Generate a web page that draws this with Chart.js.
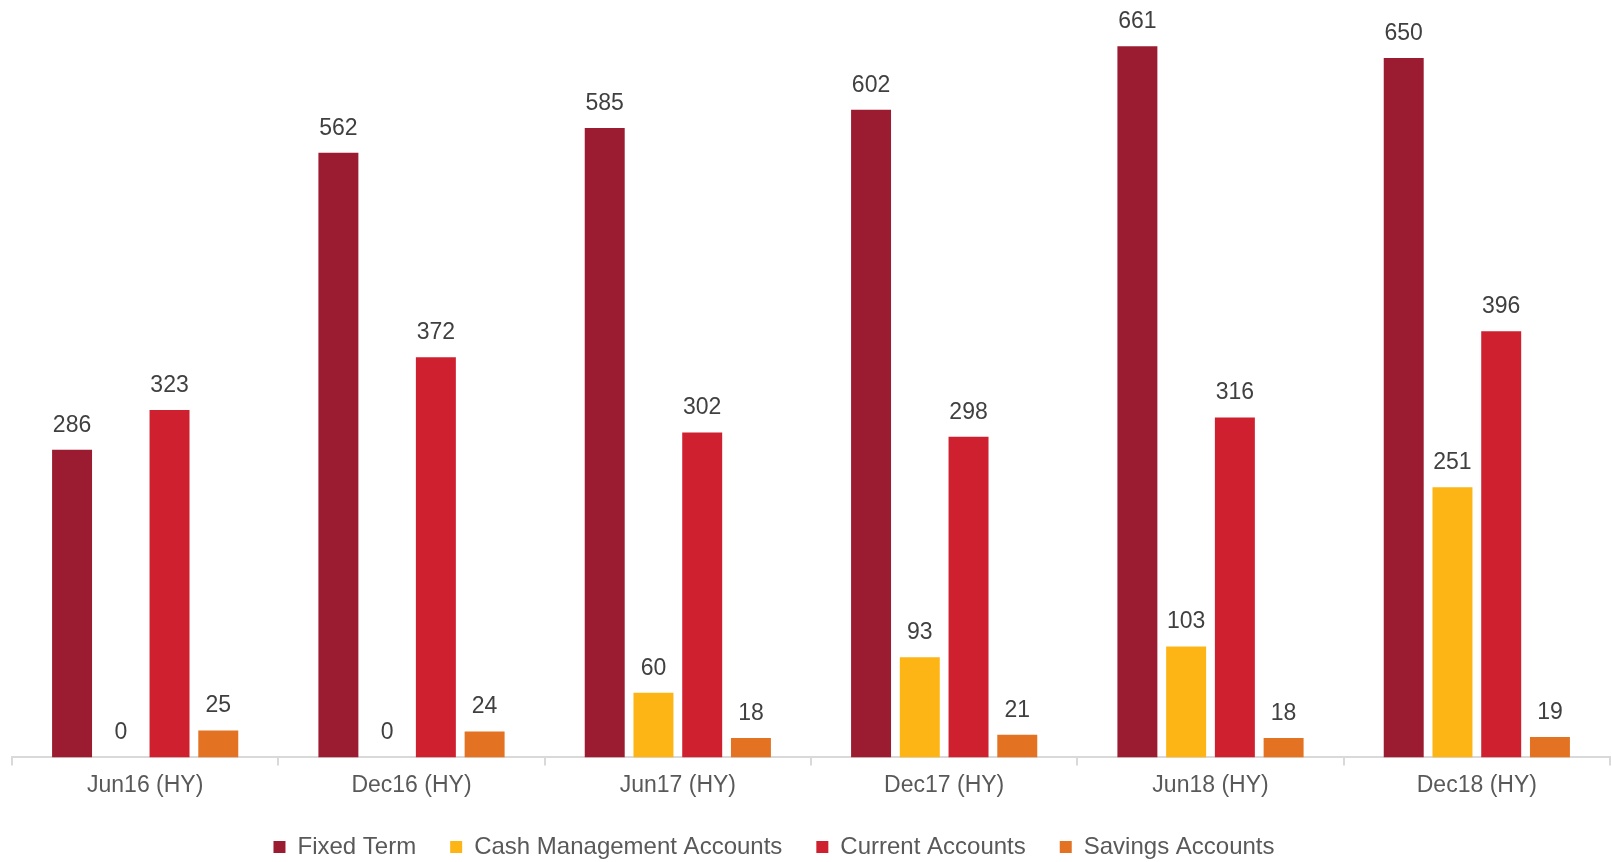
<!DOCTYPE html>
<html>
<head>
<meta charset="utf-8">
<script src="https://cdn.jsdelivr.net/npm/chart.js@4"></script>
<style>
  html, body { margin: 0; padding: 0; background: #fff; }
  #wrap { width: 1612px; height: 862px; }
</style>
</head>
<body>
<div id="wrap"><canvas id="depositChart"></canvas></div>
<script>
const categories = ['Jun16 (HY)', 'Dec16 (HY)', 'Jun17 (HY)', 'Dec17 (HY)', 'Jun18 (HY)', 'Dec18 (HY)'];
const fixedTerm = [286, 562, 585, 602, 661, 650];
const cashManagement = [0, 0, 60, 93, 103, 251];
const currentAccounts = [323, 372, 302, 298, 316, 396];
const savingsAccounts = [25, 24, 18, 21, 18, 19];

const FONT = '"Liberation Sans", Arial, sans-serif';

// value labels above each bar
const valueLabels = {
    id: 'valueLabels',
    afterDatasetsDraw(chart) {
        const ctx = chart.ctx;
        ctx.save();
        ctx.font = '23px ' + FONT;
        ctx.fillStyle = '#404040';
        ctx.textAlign = 'center';
        ctx.textBaseline = 'bottom';
        chart.data.datasets.forEach((ds, i) => {
            chart.getDatasetMeta(i).data.forEach((bar, j) => {
                ctx.fillText(ds.data[j], bar.x, bar.y - 13);
            });
        });
        ctx.restore();
    }
};

// legend sits a bit left of centre in the original
const legendShift = {
    id: 'legendShift',
    afterLayout(chart) {
        chart.legend.left -= 37;
        chart.legend.right -= 37;
    }
};

new Chart(document.getElementById('depositChart'), {
    type: 'bar',
    data: {
        labels: categories,
        datasets: [
            { label: 'Fixed Term', data: fixedTerm, backgroundColor: '#9B1C31' },
            { label: 'Cash Management Accounts', data: cashManagement, backgroundColor: '#FDB515' },
            { label: 'Current Accounts', data: currentAccounts, backgroundColor: '#CF202F' },
            { label: 'Savings Accounts', data: savingsAccounts, backgroundColor: '#E37222' }
        ]
    },
    options: {
        responsive: true,
        maintainAspectRatio: false,
        animation: false,
        datasets: { bar: { categoryPercentage: 0.732, barPercentage: 0.82 } },
        layout: { padding: { left: 12, right: 2, top: 0, bottom: -7 } },
        scales: {
            x: {
                grid: { drawOnChartArea: false, drawTicks: true, tickLength: 8, color: '#d9d9d9', lineWidth: 2 },
                border: { color: '#d9d9d9', width: 2 },
                ticks: { color: '#595959', font: { family: FONT, size: 23 }, padding: 6 },
                afterFit(scale) { scale.height -= 4; }
            },
            y: { display: false, min: 0, max: 704 }
        },
        plugins: {
            legend: {
                position: 'bottom',
                labels: {
                    boxWidth: 12,
                    boxHeight: 12,
                    padding: 34,
                    color: '#595959',
                    font: { family: FONT, size: 24 }
                }
            },
            tooltip: { enabled: false }
        }
    },
    plugins: [valueLabels, legendShift]
});
</script>
</body>
</html>
